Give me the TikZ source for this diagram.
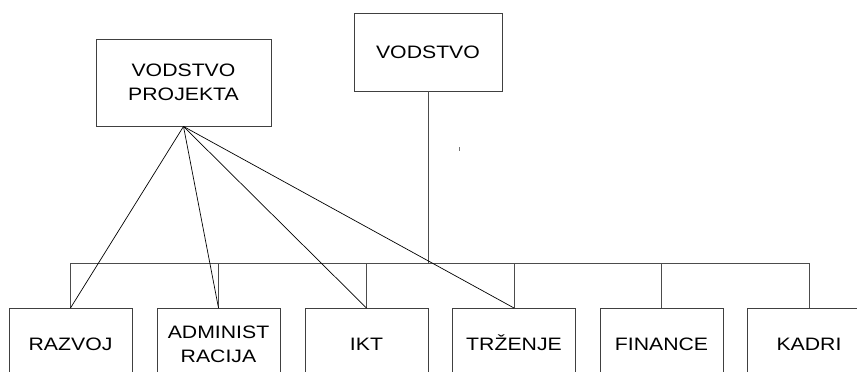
\documentclass[tikz,border=0pt]{standalone}
\usepackage{fontspec}
\setmainfont[FakeStretch=1.18]{Liberation Sans}
\begin{document}
\begin{tikzpicture}[x=1pt,y=-1pt,
  box/.style={draw=black!75, line width=0.9pt, inner sep=0pt, align=center,
    font=\fontsize{18}{23.5}\selectfont},
  topbox/.style={box},
  unitbox/.style={box, minimum width=123pt, minimum height=72pt, anchor=north},
  conn/.style={draw=black!70, line width=0.9pt},
  diag/.style={draw=black, line width=0.7pt}]
\useasboundingbox (0,0) rectangle (857,372);
\clip (0,0) rectangle (857,372);
\fill[white] (0,0) rectangle (857,372);
% top boxes
\node[topbox, minimum width=175pt, minimum height=87pt] (vp) at (183.5,82.5) {VODSTVO\\PROJEKTA};
\node[topbox, minimum width=148pt, minimum height=78pt] (vod) at (428,52) {VODSTVO};
% bottom boxes
\node[unitbox] (raz) at (70.5,308) {RAZVOJ};
\node[unitbox] (adm) at (218.5,308) {ADMINIST\\RACIJA};
\node[unitbox] (ikt) at (366.5,308) {IKT};
\node[unitbox] (trz) at (514,308) {TR\smash{Ž}ENJE};
\node[unitbox] (fin) at (661.5,308) {FINANCE};
\node[unitbox] (kad) at (809,308) {KADRI};
% bus
\coordinate (bL) at (70.5,263);
\coordinate (bR) at (809,263);
\coordinate (bV) at (428,263);
\draw[conn] (bL) -- (bR);
\draw[conn] (vod.south) -- (bV);
\foreach \n in {raz,adm,ikt,trz,fin,kad}{
  \draw[conn] (\n.north) -- (\n.north |- bL);
}
% project lines
\foreach \n in {raz,adm,ikt,trz}{
  \draw[diag] (vp.south) -- (\n.north);
}
% stray mark
\draw[black!55, line width=0.6pt] (459,147) -- (459,151);
\end{tikzpicture}
\end{document}
